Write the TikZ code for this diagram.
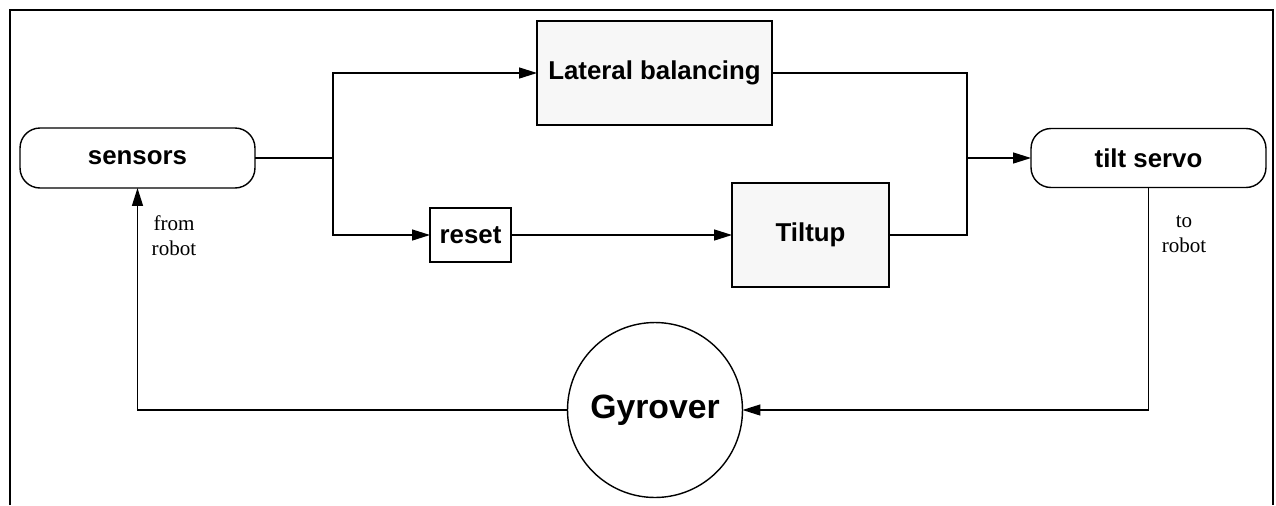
\documentclass[tikz,border=0pt]{standalone}
\usepackage{fontspec}
\setmainfont{Liberation Serif}
\newfontfamily\hv{Liberation Sans}
\usetikzlibrary{arrows.meta}
\begin{document}
\begin{tikzpicture}[x=0.02cm,y=-0.02cm,
  line width=0.8pt,
  arr/.style={-{Triangle[length=0.36cm,width=0.22cm]}},
  blk/.style={draw, inner sep=0, outer sep=0, font=\hv\bfseries\fontsize{14.7}{17}\selectfont},
  rnd/.style={blk, rounded corners=0.4cm, minimum width=4.7cm},
  lbl/.style={align=center, inner sep=0, font=\fontsize{12}{14.2}\selectfont}]
\useasboundingbox (0,0) rectangle (1276,505);
% frame
\draw[line width=1.1pt] (10,505) -- (10,10) -- (1273,10) -- (1273,505);
% nodes
\node[rnd, minimum height=1.2cm] (sens) at (137.5,158) {sensors};
\node[blk, fill=gray!6, minimum width=4.7cm, minimum height=2.08cm] (lat) at (654.5,73) {Lateral balancing};
\node[blk, minimum width=1.62cm, minimum height=1.08cm] (reset) at (470.5,235) {reset};
\node[blk, fill=gray!6, minimum width=3.14cm, minimum height=2.08cm] (tilt) at (810.5,235) {Tiltup};
\node[rnd, minimum height=1.18cm] (servo) at (1148.5,158) {tilt servo};
\node[blk, circle, minimum size=3.5cm, font=\hv\bfseries\fontsize{19.2}{22}\selectfont] (gyro) at (655,410) {Gyrover};
% labels
\node[lbl] (from) at (174,236) {from\\robot};
\node[lbl] (to) at (1184,234) {to\\robot};
% connectors
\coordinate (sa) at (333,158);
\coordinate (ma) at (967,158);
\draw (sens.east) -- (sa);
\draw[arr] (sa) |- (lat.west);
\draw[arr] (sa) |- (reset.west);
\draw[arr] (reset.east) -- (tilt.west);
\draw (lat.east) -| (ma);
\draw (tilt.east) -| (ma);
\draw[arr] (ma) -- (servo.west);
\draw[arr] (servo.south) |- (gyro.east);
\draw[arr] (gyro.west) -| (sens.south);
\end{tikzpicture}
\end{document}
